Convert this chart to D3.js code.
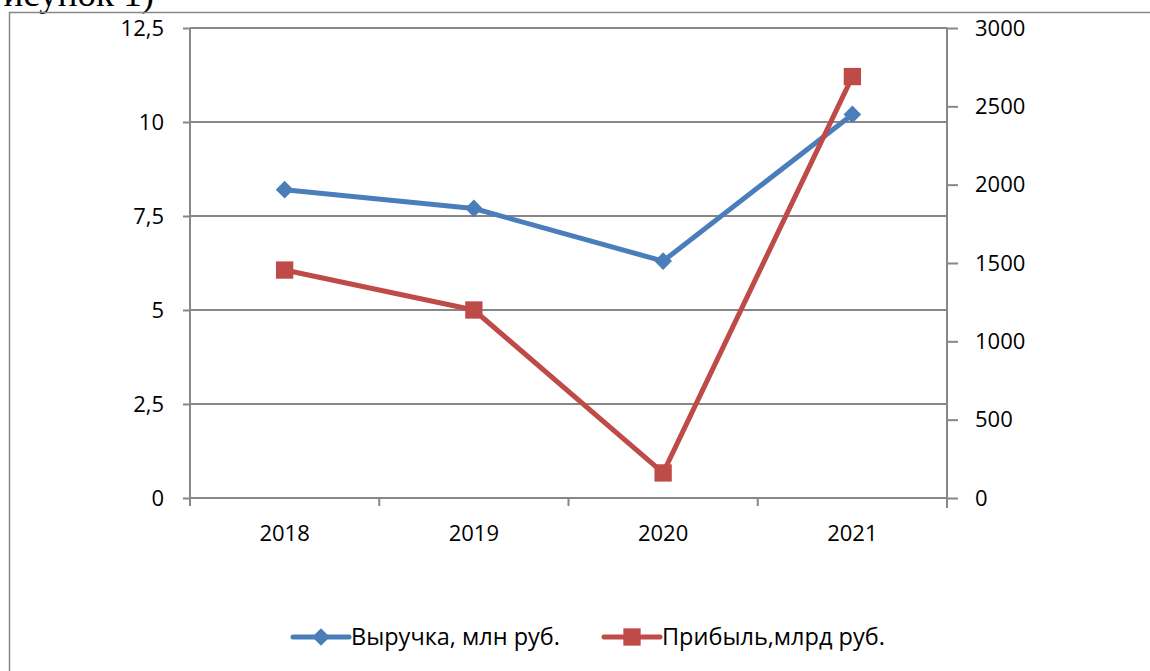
<!DOCTYPE html>
<html>
<head>
<meta charset="utf-8">
<script src="https://cdn.jsdelivr.net/npm/d3@7"></script>
<style>
  body { margin: 0; background: #fff; }
  text { font-family: "Open Sans", "Liberation Sans", Arial, sans-serif; }
</style>
</head>
<body>
<div id="chart"></div>
<script>
// Data
var years = ['2018', '2019', '2020', '2021'];
var revenue = [8.2, 7.7, 6.3, 10.2];          // Выручка, млн руб. (left axis)
var profit = [1455, 1200, 160, 2690];         // Прибыль,млрд руб. (right axis)
var leftTicks = [0, 2.5, 5, 7.5, 10, 12.5];
var rightTicks = [0, 500, 1000, 1500, 2000, 2500, 3000];
var seriesNames = ['Выручка, млн руб.', 'Прибыль,млрд руб.'];

var width = 1150, height = 671;
var plot = { left: 190, right: 947, top: 28, bottom: 498 };
var blue = '#4A7EBB', red = '#BE4B48', grid = '#878787';
var labelFont = '"Open Sans", "Liberation Sans", Arial, sans-serif';

var svg = d3.select('#chart').append('svg')
    .attr('width', width)
    .attr('height', height);

// caption, cut off at the top of the page as in the source
svg.append('text')
    .attr('x', 154).attr('y', 6)
    .attr('text-anchor', 'end')
    .style('font-family', '"Liberation Serif", "Times New Roman", serif')
    .style('font-size', '37px')
    .text('(Рисунок 1)');

// outer chart frame
svg.append('path')
    .attr('d', 'M9.5,' + height + 'V12.5H' + width)
    .attr('fill', 'none')
    .attr('stroke', grid)
    .attr('stroke-width', 1.5);

var x = d3.scaleBand().domain(years).range([plot.left, plot.right]);
var yL = d3.scaleLinear().domain([0, 12.5]).range([plot.bottom, plot.top]);
var yR = d3.scaleLinear().domain([0, 3000]).range([plot.bottom, plot.top]);

// gridlines
svg.append('g').selectAll('line')
    .data(leftTicks.slice(1))
    .enter().append('line')
    .attr('x1', plot.left).attr('x2', plot.right)
    .attr('y1', function(d){ return yL(d); })
    .attr('y2', function(d){ return yL(d); })
    .attr('stroke', grid).attr('stroke-width', 2);

// left axis
var leftAxis = svg.append('g')
    .attr('transform', 'translate(' + plot.left + ',0)')
    .call(d3.axisLeft(yL).tickValues(leftTicks).tickSize(7).tickPadding(19)
        .tickFormat(function(d){ return String(d).replace('.', ','); }));

// right axis
var rightAxis = svg.append('g')
    .attr('transform', 'translate(' + plot.right + ',0)')
    .call(d3.axisRight(yR).tickValues(rightTicks).tickSize(11).tickPadding(17)
        .tickFormat(d3.format('d')));

// bottom axis
var xTicks = x.domain().map(function(d){ return x(d); }).concat([plot.right]);
var bottom = svg.append('g')
    .attr('transform', 'translate(0,' + plot.bottom + ')');
bottom.append('line')
    .attr('x1', plot.left).attr('x2', plot.right)
    .attr('stroke', grid).attr('stroke-width', 2);
bottom.selectAll('.xt')
    .data(xTicks)
    .enter().append('line')
    .attr('x1', function(d){ return d; }).attr('x2', function(d){ return d; })
    .attr('y1', 0).attr('y2', 8)
    .attr('stroke', grid).attr('stroke-width', 2);
bottom.selectAll('.xl')
    .data(years)
    .enter().append('text')
    .attr('x', function(d){ return x(d) + x.bandwidth() / 2; })
    .attr('y', 43)
    .attr('text-anchor', 'middle')
    .style('font-size', '22px')
    .text(function(d){ return d; });

[leftAxis, rightAxis].forEach(function(a){
    a.select('.domain').attr('stroke', grid).attr('stroke-width', 2);
    a.selectAll('.tick line').attr('stroke', grid).attr('stroke-width', 2);
    a.selectAll('.tick text')
        .style('font-size', '22px')
        .style('font-family', labelFont)
        .attr('fill', '#000');
});
leftAxis.select('.domain').attr('d', 'M0,' + plot.top + 'V' + plot.bottom);
rightAxis.select('.domain').attr('d', 'M0,' + plot.top + 'V' + (plot.bottom + 10));

function cx(d, i){ return x(years[i]) + x.bandwidth() / 2; }

// revenue line
svg.append('path')
    .datum(revenue)
    .attr('d', d3.line().x(cx).y(function(d){ return yL(d); }))
    .attr('fill', 'none').attr('stroke', blue)
    .attr('stroke-width', 5).attr('stroke-linejoin', 'round');
// profit line
svg.append('path')
    .datum(profit)
    .attr('d', d3.line().x(cx).y(function(d){ return yR(d); }))
    .attr('fill', 'none').attr('stroke', red)
    .attr('stroke-width', 5).attr('stroke-linejoin', 'round');

var diamond = d3.symbol().type(d3.symbolDiamond2).size(200);
var square = d3.symbol().type(d3.symbolSquare).size(300);

svg.append('g').selectAll('path')
    .data(revenue)
    .enter().append('path')
    .attr('d', diamond)
    .attr('transform', function(d, i){ return 'translate(' + cx(d, i) + ',' + yL(d) + ')'; })
    .attr('fill', blue);

svg.append('g').selectAll('path')
    .data(profit)
    .enter().append('path')
    .attr('d', square)
    .attr('transform', function(d, i){ return 'translate(' + cx(d, i) + ',' + yR(d) + ')'; })
    .attr('fill', red);

// legend
var legend = [
    { name: seriesNames[0], color: blue, sym: diamond, x: 293 },
    { name: seriesNames[1], color: red, sym: square, x: 604 }
];
var lg = svg.append('g').selectAll('g')
    .data(legend)
    .enter().append('g')
    .attr('transform', function(d){ return 'translate(' + d.x + ',637)'; });
lg.append('line')
    .attr('x1', 0).attr('x2', 56)
    .attr('stroke', function(d){ return d.color; })
    .attr('stroke-width', 5).attr('stroke-linecap', 'round');
lg.append('path')
    .attr('d', function(d){ return d.sym(); })
    .attr('transform', 'translate(28,0)')
    .attr('fill', function(d){ return d.color; });
lg.append('text')
    .attr('x', 58).attr('y', 8)
    .style('font-size', '23.5px')
    .text(function(d){ return d.name; });
</script>
</body>
</html>
